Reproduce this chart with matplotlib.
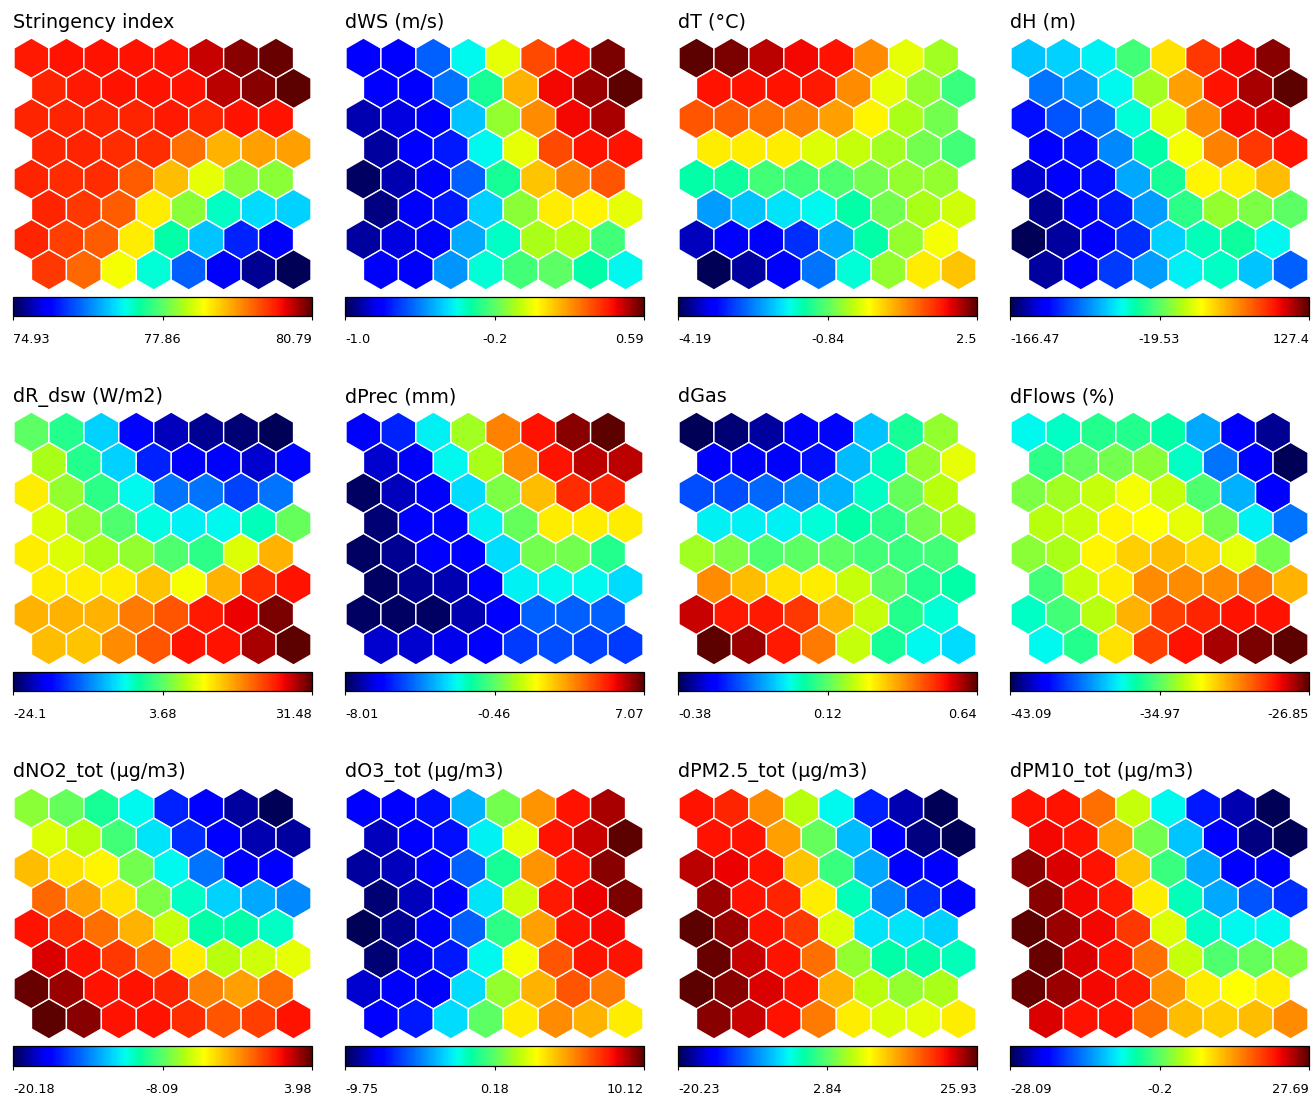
import numpy as np
import matplotlib
matplotlib.use("Agg")
import matplotlib.pyplot as plt
from matplotlib.patches import RegularPolygon
from matplotlib.collections import PatchCollection
from matplotlib.colors import Normalize, LinearSegmentedColormap
from matplotlib.cm import ScalarMappable

# ---- panel titles, colour-scale limits and colour-bar labels ----
titles = ["Stringency index", "dWS (m/s)", "dT (°C)", "dH (m)",
          "dR_dsw (W/m2)", "dPrec (mm)", "dGas", "dFlows (%)",
          "dNO2_tot (µg/m3)", "dO3_tot (µg/m3)", "dPM2.5_tot (µg/m3)", "dPM10_tot (µg/m3)"]

ranges = [(74.93, 80.79), (-1.0, 0.59), (-4.19, 2.5), (-166.47, 127.4),
          (-24.1, 31.48), (-8.01, 7.07), (-0.38, 0.64), (-43.09, -26.85),
          (-20.18, 3.98), (-9.75, 10.12), (-20.23, 25.93), (-28.09, 27.69)]

bar_labels = [["74.93", "77.86", "80.79"], ["-1.0", "-0.2", "0.59"],
              ["-4.19", "-0.84", "2.5"], ["-166.47", "-19.53", "127.4"],
              ["-24.1", "3.68", "31.48"], ["-8.01", "-0.46", "7.07"],
              ["-0.38", "0.12", "0.64"], ["-43.09", "-34.97", "-26.85"],
              ["-20.18", "-8.09", "3.98"], ["-9.75", "0.18", "10.12"],
              ["-20.23", "2.84", "25.93"], ["-28.09", "-0.2", "27.69"]]

# ---- SOM component planes: 8 rows x 8 nodes, position within the colour scale (0 = min, 100 = max) ----
stringency = [
    [88, 89, 89, 89, 89, 93, 97, 99],
    [87, 88, 89, 89, 89, 94, 97, 100],
    [87, 87, 87, 87, 88, 87, 89, 89],
    [87, 87, 86, 86, 79, 72, 74, 74],
    [87, 86, 86, 81, 71, 62, 54, 54],
    [87, 85, 81, 66, 54, 40, 34, 33],
    [87, 84, 81, 66, 42, 32, 16, 12],
    [85, 80, 63, 39, 22, 12, 4, 0]]

d_ws = [
    [12, 12, 22, 37, 62, 83, 89, 98],
    [12, 11, 24, 44, 72, 90, 96, 100],
    [6, 9, 11, 32, 55, 76, 90, 95],
    [5, 11, 15, 37, 62, 83, 89, 89],
    [1, 6, 11, 22, 44, 70, 77, 82],
    [3, 11, 15, 33, 54, 66, 65, 62],
    [5, 9, 12, 29, 40, 57, 58, 48],
    [12, 12, 27, 39, 48, 50, 42, 37]]

d_t = [
    [100, 98, 94, 90, 89, 76, 62, 56],
    [89, 89, 89, 88, 76, 62, 55, 47],
    [82, 81, 79, 77, 74, 65, 57, 52],
    [66, 66, 66, 61, 59, 56, 52, 48],
    [42, 43, 48, 48, 49, 52, 55, 55],
    [28, 32, 35, 37, 42, 52, 57, 60],
    [7, 11, 12, 17, 29, 42, 55, 63],
    [0, 5, 12, 24, 39, 55, 66, 70]]

d_h = [
    [32, 33, 36, 48, 67, 85, 90, 97],
    [24, 28, 37, 56, 74, 89, 95, 100],
    [14, 21, 24, 39, 61, 76, 90, 92],
    [11, 14, 26, 42, 63, 77, 85, 89],
    [8, 11, 14, 29, 44, 65, 66, 71],
    [4, 11, 15, 28, 46, 55, 53, 50],
    [0, 5, 12, 17, 33, 41, 43, 37],
    [5, 12, 18, 28, 36, 40, 32, 22]]

d_r_dsw = [
    [50, 45, 33, 13, 7, 4, 2, 0],
    [57, 45, 33, 16, 12, 11, 8, 13],
    [66, 55, 46, 37, 24, 24, 19, 24],
    [61, 55, 49, 38, 36, 37, 41, 51],
    [66, 61, 57, 55, 49, 46, 61, 72],
    [66, 66, 66, 70, 63, 72, 86, 89],
    [72, 72, 72, 78, 82, 88, 91, 98],
    [71, 70, 76, 82, 89, 89, 95, 100]]

d_prec = [
    [12, 16, 36, 56, 77, 89, 97, 100],
    [8, 12, 37, 57, 76, 89, 94, 94],
    [1, 7, 12, 34, 53, 71, 86, 87],
    [2, 11, 13, 36, 51, 66, 66, 66],
    [1, 4, 11, 12, 34, 52, 52, 45],
    [1, 4, 6, 11, 36, 37, 37, 34],
    [1, 1, 1, 6, 12, 22, 22, 22],
    [8, 8, 10, 12, 18, 20, 19, 18]]

d_gas = [
    [0, 2, 5, 12, 13, 32, 44, 55],
    [12, 11, 11, 14, 31, 41, 55, 62],
    [20, 20, 23, 26, 30, 40, 51, 58],
    [36, 36, 36, 39, 42, 46, 52, 57],
    [56, 53, 49, 50, 50, 48, 47, 48],
    [76, 71, 67, 66, 59, 50, 45, 42],
    [93, 88, 88, 85, 72, 59, 45, 39],
    [100, 96, 88, 78, 59, 44, 37, 34]]

d_flows = [
    [37, 40, 45, 45, 42, 29, 12, 4],
    [46, 51, 52, 54, 40, 24, 12, 0],
    [53, 56, 59, 63, 59, 49, 30, 12],
    [58, 59, 65, 64, 62, 52, 36, 24],
    [54, 57, 65, 69, 71, 68, 62, 52],
    [48, 59, 66, 76, 76, 76, 78, 72],
    [40, 48, 58, 72, 84, 87, 89, 89],
    [37, 45, 67, 84, 89, 95, 98, 100]]

d_no2 = [
    [54, 51, 44, 37, 16, 12, 5, 0],
    [61, 58, 48, 35, 17, 12, 6, 5],
    [71, 67, 65, 52, 37, 24, 12, 12],
    [80, 74, 67, 53, 40, 33, 29, 26],
    [89, 86, 79, 72, 59, 42, 42, 40],
    [92, 89, 85, 79, 66, 58, 60, 62],
    [99, 96, 89, 89, 87, 77, 74, 79],
    [100, 97, 89, 89, 86, 82, 84, 89]]

d_o3 = [
    [12, 12, 14, 30, 52, 75, 89, 95],
    [7, 12, 14, 36, 62, 89, 93, 100],
    [5, 7, 12, 22, 44, 75, 89, 97],
    [2, 7, 12, 35, 60, 88, 91, 98],
    [0, 4, 12, 22, 46, 74, 89, 90],
    [2, 10, 15, 37, 63, 82, 89, 89],
    [8, 12, 12, 34, 55, 72, 82, 78],
    [12, 15, 34, 50, 66, 76, 72, 66]]

d_pm25 = [
    [89, 87, 76, 58, 37, 16, 6, 0],
    [89, 89, 74, 51, 31, 12, 3, 0],
    [94, 91, 89, 70, 47, 29, 12, 11],
    [96, 89, 87, 66, 41, 25, 17, 13],
    [100, 96, 89, 85, 61, 35, 35, 33],
    [99, 93, 89, 79, 55, 42, 42, 41],
    [100, 97, 92, 89, 72, 58, 55, 57],
    [97, 93, 89, 78, 66, 61, 62, 66]]

d_pm10 = [
    [89, 89, 79, 59, 37, 15, 6, 0],
    [90, 89, 74, 52, 32, 12, 3, 0],
    [97, 92, 89, 70, 47, 29, 12, 11],
    [97, 90, 88, 66, 41, 29, 21, 17],
    [100, 96, 90, 85, 61, 40, 37, 37],
    [99, 92, 89, 79, 59, 49, 51, 53],
    [99, 96, 90, 88, 75, 66, 64, 66],
    [92, 89, 89, 79, 71, 69, 71, 76]]

planes = [stringency, d_ws, d_t, d_h, d_r_dsw, d_prec, d_gas, d_flows,
          d_no2, d_o3, d_pm25, d_pm10]

# ---- jet-style colour scale with deep ends and saturated greens ----
cmap = LinearSegmentedColormap.from_list("som_jet", [
    (0.000, (0.00, 0.00, 0.34)),
    (0.110, (0.00, 0.00, 1.00)),
    (0.125, (0.00, 0.00, 1.00)),
    (0.340, (0.00, 0.86, 1.00)),
    (0.375, (0.00, 1.00, 0.92)),
    (0.420, (0.00, 1.00, 0.65)),
    (0.500, (0.35, 1.00, 0.40)),
    (0.580, (0.72, 1.00, 0.05)),
    (0.640, (1.00, 1.00, 0.00)),
    (0.890, (1.00, 0.07, 0.00)),
    (0.910, (0.93, 0.00, 0.00)),
    (1.000, (0.36, 0.00, 0.00))], N=256)

# ---- figure layout (pixels) ----
W, H = 1311, 1095
fig = plt.figure(figsize=(W / 100, H / 100), dpi=100)

col_x = [(14, 311), (346, 643), (679, 976), (1011, 1308)]
row_y = [(38, 290), (412, 665), (788, 1039)]
bar_y = [(297, 316), (672, 691), (1046, 1066)]
title_y = [22, 397, 772]


def px_axes(x0, x1, y0, y1):
    return fig.add_axes([x0 / W, 1 - y1 / H, (x1 - x0) / W, (y1 - y0) / H])


r = 1 / np.sqrt(3)
dy = np.sqrt(3) / 2

for k, (title, (lo, hi), labs, plane) in enumerate(zip(titles, ranges, bar_labels, planes)):
    row, col = divmod(k, 4)
    x0, x1 = col_x[col]
    y0, y1 = row_y[row]
    ax = px_axes(x0, x1, y0, y1)
    levels = np.array(plane, dtype=float)
    values = lo + levels / 100.0 * (hi - lo)
    norm = Normalize(vmin=lo, vmax=hi)

    patches, vals = [], []
    for i in range(8):
        for j in range(8):
            cx = j + 0.5 * (i % 2)
            cy = -i * dy
            patches.append(RegularPolygon((cx, cy), numVertices=6, radius=r, orientation=0))
            vals.append(values[i, j])
    pc = PatchCollection(patches, cmap=cmap, norm=norm, edgecolor="white", linewidth=1.0)
    pc.set_array(np.array(vals))
    ax.add_collection(pc)
    ax.set_xlim(-0.5, 8.0)
    ax.set_ylim(-7 * dy - r, r)
    ax.axis("off")

    fig.text((x0 - 1) / W, 1 - title_y[row] / H, title, ha="left", va="center",
             fontsize=13.8, family="DejaVu Sans")

    by0, by1 = bar_y[row]
    cax = px_axes(x0 - 1, x1 + 1, by0, by1)
    sm = ScalarMappable(norm=norm, cmap=cmap)
    cb = fig.colorbar(sm, cax=cax, orientation="horizontal")
    cb.outline.set_linewidth(0.9)
    cb.set_ticks([lo, (lo + hi) / 2, hi])
    cb.set_ticklabels(labs)
    cax.tick_params(axis="x", direction="out", length=3, width=0.8, labelsize=9.3, pad=9)
    tl = cax.get_xticklabels()
    tl[0].set_ha("left")
    tl[-1].set_ha("right")

fig.savefig("out.png", dpi=100, facecolor="white")
